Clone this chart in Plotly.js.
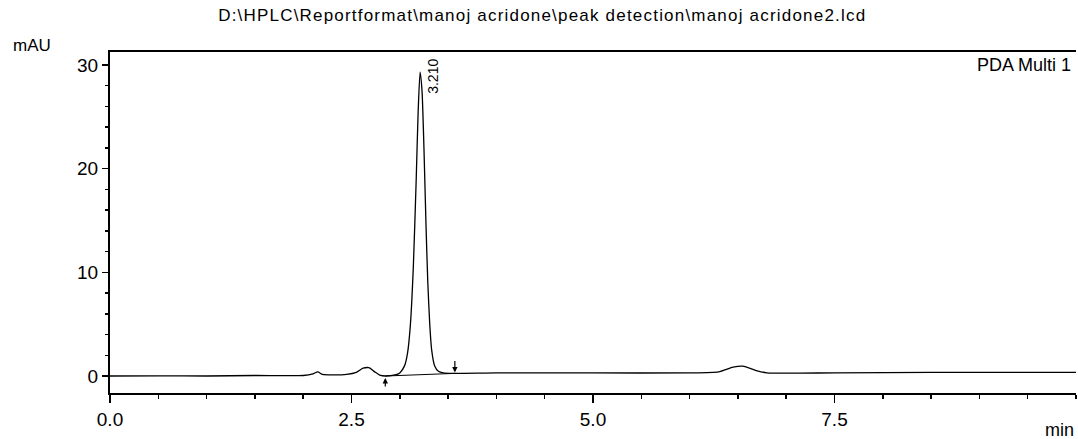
<!DOCTYPE html>
<html>
<head>
<meta charset="utf-8">
<script src="https://cdn.plot.ly/plotly-3.0.1.min.js"></script>
<style>
html,body{margin:0;padding:0;background:#fff;}
#chart{width:1078px;height:439px;}
.gtitle{letter-spacing:1.2px;}
.annotation-text-g .spaced{letter-spacing:1.6px;}
</style>
</head>
<body>
<div id="chart"></div>
<script>
// Retention time (min) and absorbance (mAU)
const timeMin = [0, 0.5, 1.0, 1.5, 2.0, 2.1, 2.15, 2.2, 2.3, 2.45, 2.55, 2.62, 2.68, 2.74, 2.8, 2.85, 2.95, 3.0, 3.05, 3.08, 3.11, 3.14, 3.17, 3.19, 3.21, 3.23, 3.25, 3.27, 3.29, 3.31, 3.33, 3.36, 3.4, 3.45, 3.55, 4.0, 5.0, 6.0, 6.3, 6.45, 6.55, 6.7, 6.8, 7.5, 8.5, 10.0];
const signalMAU = [0.0, 0.02, 0.0, 0.05, 0.05, 0.2, 0.4, 0.15, 0.1, 0.15, 0.35, 0.75, 0.8, 0.4, 0.05, 0.0, 0.1, 0.3, 1.0, 2.2, 5.0, 10.5, 19.0, 25.5, 29.3, 27.5, 22.0, 15.0, 9.0, 5.0, 2.5, 1.0, 0.45, 0.3, 0.25, 0.3, 0.3, 0.3, 0.4, 0.85, 0.95, 0.5, 0.3, 0.3, 0.35, 0.35];
const peakRT = [3.21];
const peakHeight = [29.3];
const peakLabels = ["3.210"];
const peakStart = [2.85, 0.0];   // [time, baseline value]
const peakEnd = [3.57, 0.25];
const xTicks = [0, 2.5, 5.0, 7.5];
const xTickText = ["0.0", "2.5", "5.0", "7.5"];
const yTicks = [0, 10, 20, 30];
const titleText = "D:\\HPLC\\Reportformat\\manoj acridone\\peak detection\\manoj acridone2.lcd";

const font = "Liberation Sans, Arial, sans-serif";

const traces = [
  {x: timeMin, y: signalMAU, type: 'scatter', mode: 'lines',
   line: {color: '#000', width: 1.3, shape: 'spline', smoothing: 0.6}, hoverinfo: 'skip'},
  {x: [peakStart[0], peakEnd[0]], y: [peakStart[1], peakEnd[1]], type: 'scatter', mode: 'lines',
   line: {color: '#000', width: 1}, hoverinfo: 'skip'}
];

const annotations = [
  {x: peakRT[0], y: peakHeight[0], text: peakLabels[0], textangle: -90, showarrow: false,
   xanchor: 'left', yanchor: 'top', xshift: 3, yshift: 15, font: {family: font, size: 14, color: '#000'}},
  {x: peakStart[0], y: peakStart[1], ax: 0, ay: 12, showarrow: true, arrowhead: 2, arrowsize: 0.9,
   arrowwidth: 1.2, arrowcolor: '#000', text: '', standoff: 2},
  {x: peakEnd[0], y: peakEnd[1], ax: 0, ay: -14, showarrow: true, arrowhead: 2, arrowsize: 0.9,
   arrowwidth: 1.2, arrowcolor: '#000', text: '', standoff: 1},
  {xref: 'paper', yref: 'paper', x: 0.895, y: 0.996, xanchor: 'left', yanchor: 'top', showarrow: false,
   text: '<span class="spaced">PDA Multi 1</span>', font: {family: font, size: 18, color: '#000'}},
  {xref: 'paper', yref: 'paper', x: -0.1025, y: 1.0205, xanchor: 'left', yanchor: 'middle', showarrow: false,
   text: '<span class="spaced">mAU</span>', font: {family: font, size: 17, color: '#000'}},
  {xref: 'paper', yref: 'paper', x: 1.0, y: -0.108, xanchor: 'right', yanchor: 'middle', showarrow: false,
   text: 'min', font: {family: font, size: 18, color: '#000'}}
];

const layout = {
  width: 1078, height: 439,
  margin: {l: 110, r: 2, t: 52, b: 46},
  paper_bgcolor: '#fff', plot_bgcolor: '#fff',
  showlegend: false,
  title: {text: titleText, x: 0.503, xanchor: 'center', y: 0.966, yanchor: 'middle',
          font: {family: font, size: 17, color: '#000'}},
  xaxis: {range: [0, 10], tickvals: xTicks, ticktext: xTickText, ticks: 'outside', ticklen: 8,
          tickcolor: '#000', tickwidth: 1.5, showline: true, linecolor: '#000', linewidth: 2,
          mirror: true, showgrid: false, zeroline: false,
          minor: {dtick: 0.5, tick0: 0, ticks: 'outside', ticklen: 4, tickcolor: '#000', showgrid: false},
          tickfont: {family: font, size: 19, color: '#000'}},
  yaxis: {range: [-1.64, 31.25], tickvals: yTicks, ticks: 'outside', ticklen: 6,
          tickcolor: '#000', tickwidth: 1.5, showline: true, linecolor: '#000', linewidth: 2,
          showgrid: false, zeroline: false,
          minor: {dtick: 2, tick0: 0, ticks: 'outside', ticklen: 3, tickcolor: '#000', showgrid: false},
          tickfont: {family: font, size: 19, color: '#000'}},
  annotations: annotations
};

Plotly.newPlot('chart', traces, layout, {staticPlot: true, displayModeBar: false});
</script>
</body>
</html>
